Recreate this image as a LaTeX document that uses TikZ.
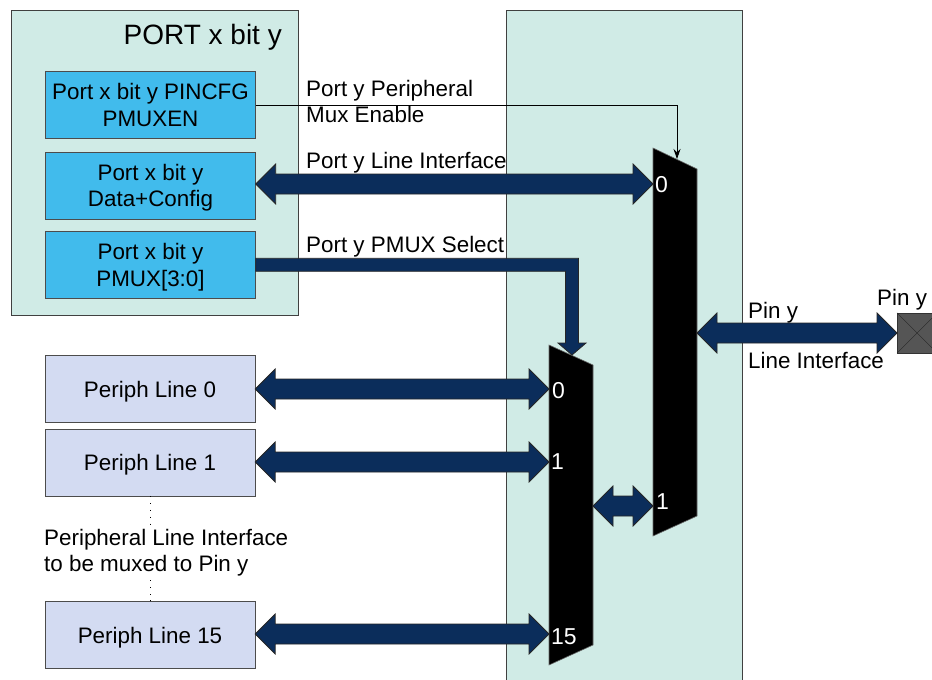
\documentclass[tikz,border=0pt]{standalone}
\usepackage{fontspec}
\setmainfont{Liberation Sans}
\usetikzlibrary{arrows.meta,positioning,calc}

\definecolor{portbg}{HTML}{D0EBE6}
\definecolor{regblue}{HTML}{41BBEC}
\definecolor{periphbg}{HTML}{D3DBF2}
\definecolor{busnavy}{HTML}{0B2D5B}
\definecolor{pingray}{HTML}{555555}

% wide two-headed bus, drawn at the height of the right end
\newcommand{\busarrow}[2]{%
  \draw[bus] let \p1=(#1), \p2=(#2) in
    (\x1,\y2) -- (\x1+20pt,\y2+20pt) -- (\x1+20pt,\y2+10pt) -- (\x2-20pt,\y2+10pt)
    -- (\x2-20pt,\y2+20pt) -- (\x2,\y2) -- (\x2-20pt,\y2-20pt) -- (\x2-20pt,\y2-10pt)
    -- (\x1+20pt,\y2-10pt) -- (\x1+20pt,\y2-20pt) -- cycle;}
% bent select bus, right then down
\newcommand{\selarrow}[2]{%
  \draw[bus] let \p1=(#1), \p2=(#2) in
    (\x1,\y1+6.5pt) -- (\x2+6.5pt,\y1+6.5pt) -- (\x2+6.5pt,\y2+12pt) -- (\x2+14pt,\y2+12pt)
    -- (\x2,\y2) -- (\x2-14pt,\y2+12pt) -- (\x2-6.5pt,\y2+12pt) -- (\x2-6.5pt,\y1-6.5pt)
    -- (\x1,\y1-6.5pt) -- cycle;}

\begin{document}
\begin{tikzpicture}[x=1pt, y=-1pt,
  lbl/.style={font=\fontsize{22.4}{26}\selectfont, inner sep=0pt, align=left, anchor=north west},
  regbox/.style={draw=black!70, fill=regblue, minimum width=210pt, minimum height=67pt,
    inner sep=0pt, align=center, text depth=0pt, font=\fontsize{22.4}{26.5}\selectfont},
  periph/.style={regbox, fill=periphbg},
  area/.style={draw=black!75, fill=portbg, inner sep=0pt, anchor=north west},
  bus/.style={fill=busnavy, draw=black!85, line width=0.8pt},
  mux/.style={fill=black, draw=black!60, line width=0.6pt},
  muxnum/.style={font=\fontsize{23}{26}\selectfont, inner sep=0pt, text=white, anchor=west},
  dots/.style={line width=0.9pt, dash pattern=on 0.9pt off 6pt}
]
\path[use as bounding box] (0,0) rectangle (932,680);
\clip (0,0) rectangle (932,680);

% backgrounds
\node[area, minimum width=287pt, minimum height=305pt] (port) at (11,10) {};
\node[area, minimum width=236pt, minimum height=700pt] (muxarea) at (506,10) {};
\node[font=\fontsize{28}{32}\selectfont, inner sep=0pt, anchor=north east] (title) at (282,24) {PORT x bit y};

% registers
\node[regbox] (pincfg) at (150.5,105) {Port x bit y PINCFG\\PMUXEN};
\node[regbox, below=13pt of pincfg] (datacfg) {Port x bit y\\Data+Config};
\node[regbox, below=12pt of datacfg] (pmux) {Port x bit y\\PMUX[3:0]};

% peripheral lines
\node[periph] (line0) at (150,389) {Periph Line 0};
\node[periph, below=6pt of line0] (line1) {Periph Line 1};
\node[periph] (line15) at (150,635) {Periph Line 15};
\node[lbl] (note) at (44,529) {Peripheral Line Interface\\to be muxed to Pin y};
\draw[dots] (line1.south) -- (line1.south |- note.north);
\draw[dots] (line15.north) -- (line15.north |- note.south);

% muxes
\filldraw[mux] (653,148) -- (697,169) -- (697,516) -- (653,536) -- cycle;
\filldraw[mux] (549,345) -- (593,365) -- (593,645) -- (549,665) -- cycle;
\coordinate (m1in0) at (653,184);
\coordinate (m1in1) at (653,506);
\coordinate (m1out) at (697,334);
\coordinate (m1sel) at (677,159);
\coordinate (m2in0) at (549,389);
\coordinate (m2in1) at (549,462);
\coordinate (m2in15) at (549,634);
\coordinate (m2out) at (593,506);
\coordinate (m2sel) at (572,355);
\node[muxnum] (n10) at (655,185) {0};
\node[muxnum] (n11) at (656,502) {1};
\node[muxnum] (n20) at (552,391) {0};
\node[muxnum] (n21) at (551,462) {1};
\node[muxnum] (n215) at (551,637) {15};

% pin
\node[draw=black!80, fill=pingray, minimum size=40pt, inner sep=0pt, anchor=west] (pin) at (897,333) {};
\draw[black!85] (pin.north west) -- (pin.south east) (pin.south west) -- (pin.north east);
\node[lbl] (pinlbl) at (877,289) {Pin y};

% connections
\draw[-{Stealth[length=10pt,width=7pt]}, line width=0.8pt] (pincfg.east) -- (pincfg.east -| m1sel) -- (m1sel);
\busarrow{datacfg.east}{m1in0}
\selarrow{pmux.east}{m2sel}
\busarrow{line0.east}{m2in0}
\busarrow{line1.east}{m2in1}
\busarrow{line15.east}{m2in15}
\busarrow{m2out}{m1in1}
\busarrow{m1out}{pin.west}

% bus labels
\node[lbl] (enlbl) at (306,80) {Port y Peripheral\\Mux Enable};
\node[lbl] (iflbl) at (306,152) {Port y Line Interface};
\node[lbl] (sellbl) at (306,236) {Port y PMUX Select};
\node[lbl] (pinif1) at (748,302) {Pin y};
\node[lbl] (pinif2) at (748,352) {Line Interface};
\end{tikzpicture}
\end{document}
